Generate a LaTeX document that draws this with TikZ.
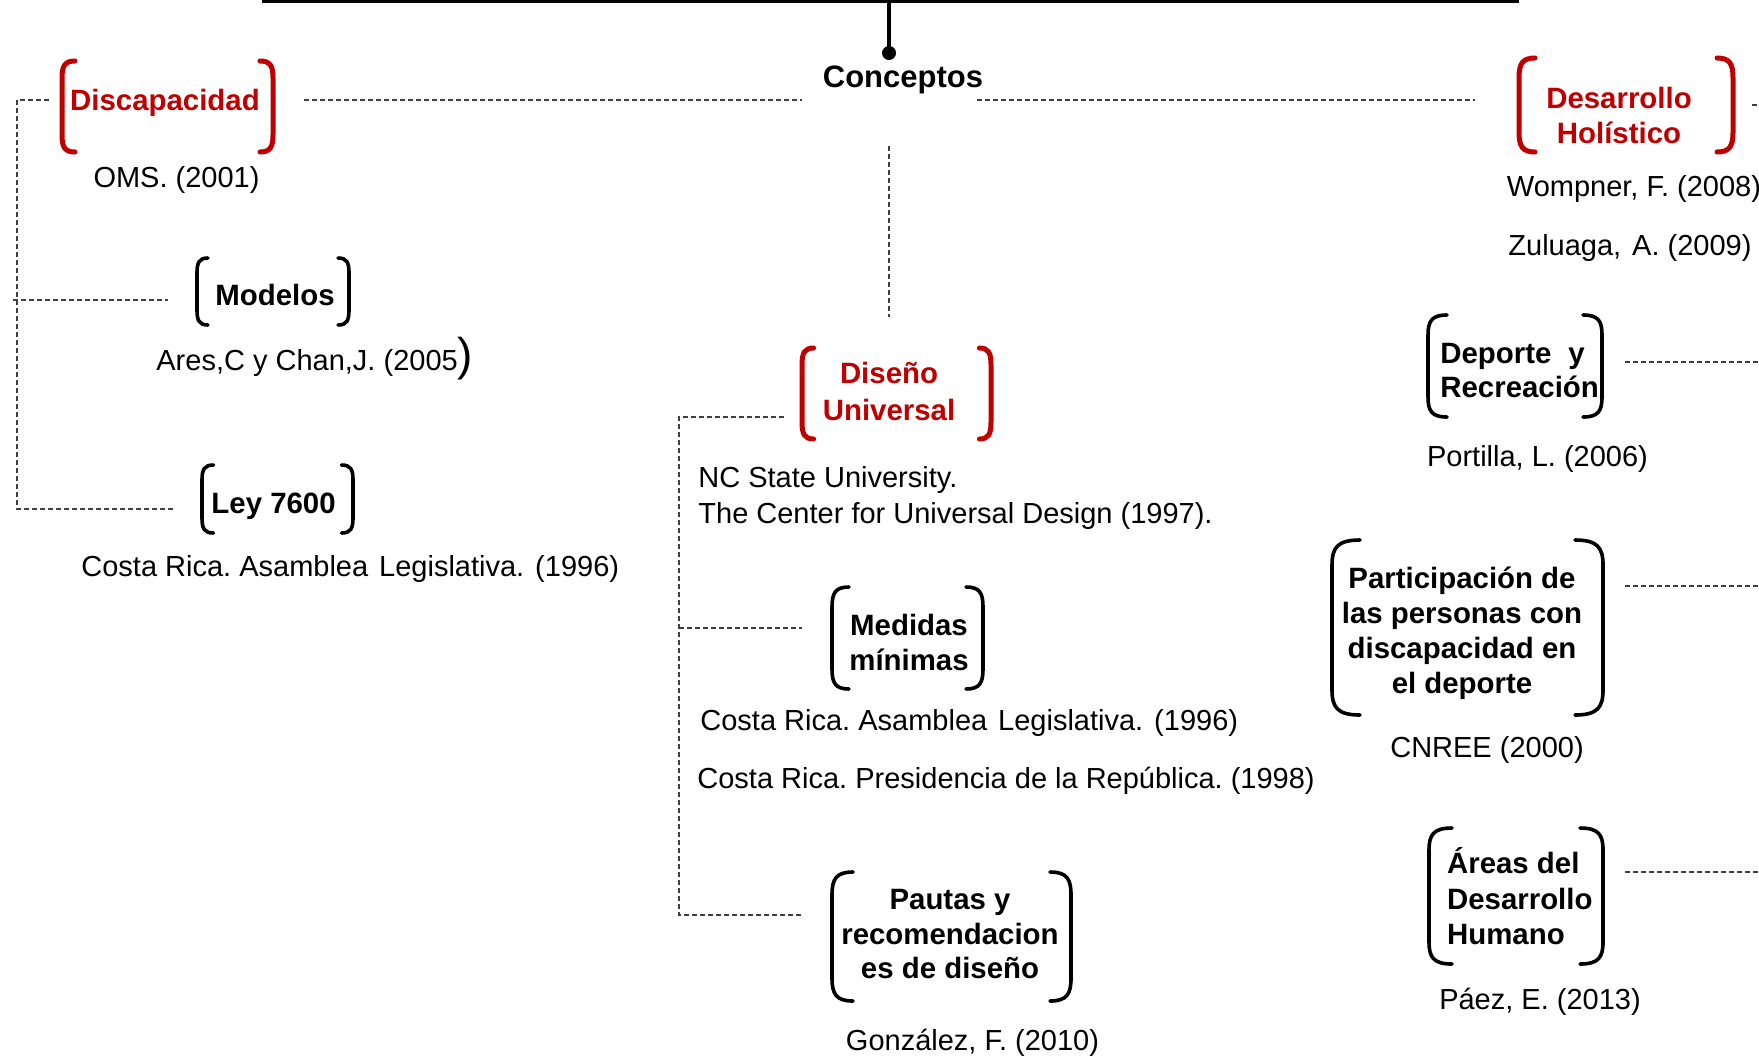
\documentclass[tikz,border=0pt]{standalone}
\usepackage{fontspec}
\setmainfont{Liberation Sans}
\frenchspacing
\definecolor{cred}{RGB}{192,0,0}
\newcommand\brkt[7]{%
  \draw[#7] ({#1+#5},#3) .. controls ({#1+0.2*#5},#3) and (#1,{#3+0.3*#6}) .. (#1,{#3+#6}) -- (#1,{#4-#6}) .. controls (#1,{#4-0.3*#6}) and ({#1+0.2*#5},#4) .. ({#1+#5},#4);
  \draw[#7] ({#2-#5},#3) .. controls ({#2-0.2*#5},#3) and (#2,{#3+0.3*#6}) .. (#2,{#3+#6}) -- (#2,{#4-#6}) .. controls (#2,{#4-0.3*#6}) and ({#2-0.2*#5},#4) .. ({#2-#5},#4);
}
\begin{document}
\begin{tikzpicture}[x=0.5pt,y=-0.5pt,
  ref/.style={font=\fontsize{14.5}{17.5}\selectfont, inner sep=0pt},
  ttl/.style={font=\bfseries\fontsize{14.7}{17.5}\selectfont, inner sep=0pt},
  ttlr/.style={ttl, text=cred},
  link/.style={draw=black!75, line width=0.6pt, dash pattern=on 2.5pt off 1.5pt},
  brkb/.style={line width=1.8pt, line cap=round},
  brkr/.style={line width=2.5pt, line cap=round, draw=cred}]
\clip (0,0) rectangle (1759,1056);
\fill[white] (0,0) rectangle (1759,1056);

% top bar and stem
\coordinate (barL) at (262,0);
\coordinate (barR) at (1519,0);
\coordinate (stemtop) at (889,0);
\coordinate (dot) at (889,53);
\draw[line width=3.4pt] (barL) -- (barR);
\draw[line width=1.8pt] (stemtop) -- (dot);
\fill (dot) circle (3.5pt);

% central node
\node[ttl, font=\bfseries\fontsize{15.5}{18}\selectfont, anchor=base] (conc) at (903,87) {Conceptos};

% ---------- left branch ----------
\node[ttlr, anchor=base] (disc) at (165,110) {Discapacidad};
\brkt{62}{273}{61}{152}{13}{17}{brkr}
\node[ref, anchor=base] (oms) at (176.5,187) {OMS. (2001)};

\node[ttl, anchor=base] (mod) at (275,305) {Modelos};
\brkt{197}{349}{258}{325}{11}{15}{brkb}
\node[ref, anchor=base west] (ares) at (156,370) {Ares,C y Chan,J. (2005{\fontsize{23}{23}\selectfont)}};

\node[ttl, anchor=base] (ley) at (273.6,513.3) {Ley 7600};
\brkt{202}{353}{465}{533}{11.5}{15}{brkb}
\node[ref, anchor=base west] (cr1) at (81,576.7) {Costa Rica. Asamblea\hspace{0.1em} Legislativa.\hspace{0.1em} (1996)};

% ---------- right branch ----------
\node[ttlr, anchor=base] (des1) at (1619,108) {Desarrollo};
\node[ttlr, anchor=base] (des2) at (1619,143) {Holístico};
\brkt{1519}{1733}{58}{152}{16}{20}{brkr}
\node[ref, anchor=base west] (womp) at (1506.5,196.7) {Wompner, F. (2008)};
\node[ref, anchor=base west] (zul) at (1508,255) {Zuluaga,\hspace{0.1em} A. (2009)};

\node[ttl, anchor=base west] (dep1) at (1440,363) {Deporte\hspace{0.3em} y};
\node[ttl, anchor=base west] (dep2) at (1440,397) {Recreación};
\brkt{1428}{1602}{315}{417}{19}{20}{brkb}
\node[ref, anchor=base west] (por) at (1426.7,466.7) {Portilla, L. (2006)};

\node[ttl, anchor=base] (par1) at (1462,588) {Participación de};
\node[ttl, anchor=base] (par2) at (1462,623) {las personas con};
\node[ttl, anchor=base] (par3) at (1462,658) {discapacidad en};
\node[ttl, anchor=base] (par4) at (1462,693) {el deporte};
\brkt{1332}{1603}{540}{715}{28}{25}{brkb}
\node[ref, anchor=base] (cnree) at (1487,757.6) {CNREE (2000)};

\node[ttl, anchor=base west] (are1) at (1446.7,873.8) {Áreas del};
\node[ttl, anchor=base west] (are2) at (1446.7,909.7) {Desarrollo};
\node[ttl, anchor=base west] (are3) at (1446.7,944) {Humano};
\brkt{1429}{1603}{828}{964}{23}{22}{brkb}
\node[ref, anchor=base] (paez) at (1540,1009) {Páez, E. (2013)};

% ---------- middle branch ----------
\node[ttlr, anchor=base] (dis1) at (889,383) {Diseño};
\node[ttlr, anchor=base] (dis2) at (889,420) {Universal};
\brkt{802}{991}{348}{439}{11.6}{17}{brkr}
\node[ref, anchor=base west] (ncs1) at (698,487.4) {NC State University.};
\node[ref, anchor=base west] (ncs2) at (698,523.5) {The Center for Universal Design (1997).};

\node[ttl, anchor=base] (med1) at (909,635.5) {Medidas};
\node[ttl, anchor=base] (med2) at (909,670.3) {mínimas};
\brkt{832}{983}{587}{689}{17}{20}{brkb}
\node[ref, anchor=base west] (cr2) at (700,730.5) {Costa Rica. Asamblea\hspace{0.1em} Legislativa.\hspace{0.1em} (1996)};
\node[ref, anchor=base west] (cr3) at (697,788.3) {Costa Rica. Presidencia de la República. (1998)};

\node[ttl, anchor=base] (pau1) at (950,909.6) {Pautas y};
\node[ttl, anchor=base] (pau2) at (950,944.8) {recomendacion};
\node[ttl, anchor=base] (pau3) at (950,978) {es de diseño};
\brkt{832}{1071}{872}{1001}{21}{23}{brkb}
\node[ref, anchor=base] (gon) at (972.5,1050) {González, F. (2010)};

% ---------- connectors ----------
\coordinate (cdL) at (304,100);
\coordinate (ccL) at (802,100);
\coordinate (ccR) at (977,100);
\coordinate (cdR) at (1475,100);
\coordinate (ccD) at (889,146);
\coordinate (cuT) at (889,317);
\draw[link] (cdL) -- (ccL);
\draw[link] (ccR) -- (cdR);
\draw[link] (ccD) -- (cuT);

\coordinate (ldisc) at (49,100);
\coordinate (lcorner) at (17,100);
\coordinate (lbot) at (17,509);
\coordinate (lley) at (173,509);
\coordinate (lmodA) at (13,300);
\coordinate (lmod) at (168,300);
\draw[link] (ldisc) -- (lcorner) -- (lbot) -- (lley);
\draw[link] (lmodA) -- (lmod);

\coordinate (mdis) at (784,417);
\coordinate (mcorner) at (679,417);
\coordinate (mbot) at (679,915);
\coordinate (mpau) at (802,915);
\coordinate (mmedA) at (679,628);
\coordinate (mmed) at (802,628);
\draw[link] (mdis) -- (mcorner) -- (mbot) -- (mpau);
\draw[link] (mmedA) -- (mmed);

\coordinate (rdes) at (1752,105);
\coordinate (rdesE) at (1759,105);
\coordinate (rdep) at (1625,362);
\coordinate (rdepE) at (1759,362);
\coordinate (rpar) at (1625,586);
\coordinate (rparE) at (1759,586);
\coordinate (rare) at (1625,872);
\coordinate (rareE) at (1759,872);
\draw[link] (rdes) -- (rdesE);
\draw[link] (rdep) -- (rdepE);
\draw[link] (rpar) -- (rparE);
\draw[link] (rare) -- (rareE);
\end{tikzpicture}
\end{document}
